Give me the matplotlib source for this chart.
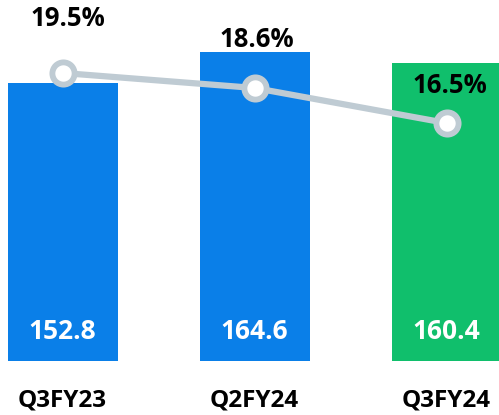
import matplotlib
matplotlib.use("Agg")
import matplotlib.pyplot as plt

categories = ["Q3FY23", "Q2FY24", "Q3FY24"]
bar_values = [152.8, 164.6, 160.4]
pct_values = [19.5, 18.6, 16.5]
bar_colors = ["#0A7FE8", "#0A7FE8", "#10BF6C"]

plt.rcParams['font.family'] = ['Open Sans', 'DejaVu Sans']

fig = plt.figure(figsize=(4.99, 4.15), dpi=100)
ax = fig.add_axes([0, 54/415, 1, 361/415])
x = list(range(len(categories)))
ax.bar(x, bar_values, width=0.573, color=bar_colors, bottom=0)
ax.set_xlim(-0.326, 2.273)
ax.set_ylim(47, 184.4)
ax.axis('off')

for xi, v in zip(x, bar_values):
    ax.annotate(f"{v:.1f}", xy=(xi, 47), xytext=(0, 30), textcoords='offset pixels',
                ha='center', va='center', color='white', fontsize=19, fontweight='bold')

for xi, c in zip(x, categories):
    ax.annotate(c, xy=(xi, 47), xytext=(0, -39), textcoords='offset pixels',
                ha='center', va='center', fontsize=17.5, fontweight='bold', color='black',
                annotation_clip=False)

ax2 = ax.twinx()
ax2.set_ylim(2.25, 23.87)
ax2.plot(x, pct_values, color="#BFCBD3", lw=4.5, marker='o', ms=16,
         mfc='white', mec="#BFCBD3", mew=4.2, zorder=3)
ax2.axis('off')

offsets = [(5, 54), (2, 48), (3, 38)]
for xi, v, (dx, dy) in zip(x, pct_values, offsets):
    ax2.annotate(f"{v:.1f}%", xy=(xi, v), xytext=(dx, dy), textcoords='offset pixels',
                 ha='center', va='center', fontsize=18.5, fontweight='bold', color='black')

fig.savefig("out.png", dpi=100)
